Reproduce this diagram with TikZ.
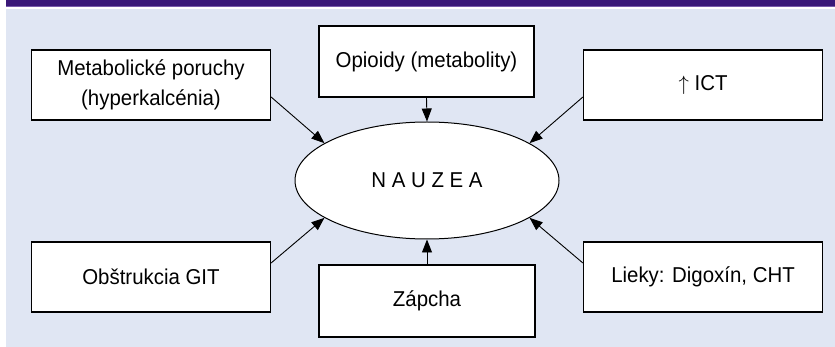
\documentclass[tikz,border=0pt]{standalone}
\usepackage{fontspec}
\setmainfont[FakeStretch=0.95]{Liberation Sans}
\usetikzlibrary{arrows.meta, shapes.geometric}
\definecolor{titlebar}{RGB}{58,24,120}
\definecolor{barline}{RGB}{120,90,170}
\definecolor{panelblue}{RGB}{224,230,243}

\begin{document}
\begin{tikzpicture}[x=1pt, y=-1pt, >={Triangle[length=13pt, width=10pt]},
  cause/.style={draw=black, line width=1.2pt, fill=white, minimum width=239pt,
                minimum height=70pt, inner sep=2pt, align=center,
                font=\fontsize{21.5}{30}\selectfont},
  link/.style={->, line width=0.9pt, black}]
  % Panel and title bar
  \useasboundingbox (0,0) rectangle (835,347);
  \fill[white] (0,0) rectangle (835,347);
  \fill[panelblue] (6,9) rectangle (835,347);
  \fill[titlebar] (6,0) rectangle (835,6.5);
  \fill[barline] (6,6.5) rectangle (835,7.3);

  % Centre
  \node[ellipse, draw, line width=1pt, fill=white, minimum width=264pt,
        minimum height=117pt, inner sep=0pt,
        font=\fontsize{21.5}{24}\selectfont] (nauzea) at (427,180.5) {N A U Z E A};

  % Causes
  \node[cause] (metab) at (151,85) {Metabolické poruchy\\(hyperkalcénia)};
  \node[cause, minimum width=215pt, minimum height=71pt] (opioid) at (426.5,61.5) {Opioidy (metabolity)};
  \node[cause] (ict) at (703,85) {$\uparrow$ ICT};
  \node[cause] (obstr) at (151,277) {Obštrukcia GIT};
  \node[cause, minimum width=216pt, minimum height=72pt] (zapcha) at (427,301) {Zápcha};
  \node[cause] (lieky) at (703,277) {Lieky: Digoxín, CHT};

  % Arrows into the centre
  \draw[link] ([yshift=-12pt]metab.east) -- (nauzea.160);
  \draw[link] (opioid.south) -- (nauzea.north);
  \draw[link] ([yshift=-12pt]ict.west) -- (nauzea.20);
  \draw[link] ([yshift=14pt]obstr.east) -- (nauzea.200);
  \draw[link] (zapcha.north) -- (nauzea.south);
  \draw[link] ([yshift=14pt]lieky.west) -- (nauzea.340);
\end{tikzpicture}
\end{document}
